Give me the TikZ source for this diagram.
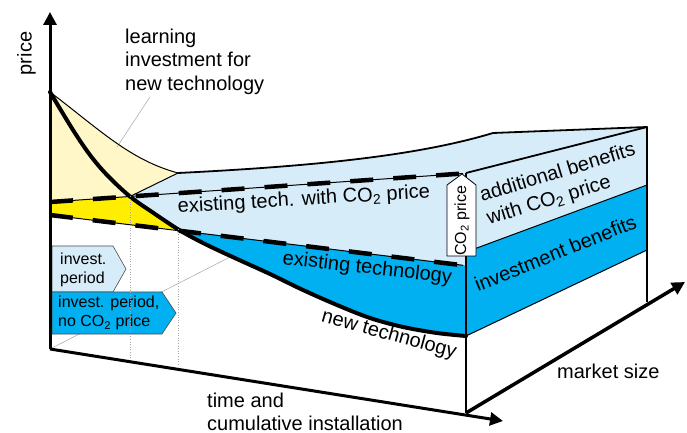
\documentclass[tikz,border=0pt]{standalone}
\usepackage{fontspec}
\setmainfont{Liberation Sans}
\usetikzlibrary{arrows.meta}
\definecolor{lblue}{RGB}{215,236,249}
\definecolor{dblue}{RGB}{0,176,240}
\definecolor{pyellow}{RGB}{255,247,200}
\definecolor{yyellow}{RGB}{255,238,0}
\definecolor{guide}{RGB}{165,165,165}
\begin{document}
\begin{tikzpicture}[x=1bp,y=-1bp,
  txt/.style={inner sep=0pt, font=\fontsize{20bp}{24bp}\selectfont},
  stxt/.style={inner sep=0pt, font=\fontsize{16bp}{19bp}\selectfont},
  edgeline/.style={line width=1.8bp, line join=round},
  thinedge/.style={line width=1bp},
  dashline/.style={line width=4.5bp, dash pattern=on 23bp off 20bp},
  axisline/.style={line width=3bp, -{Triangle[length=13bp,width=13bp]}},
  guideline/.style={guide, line width=0.5bp},
  boxline/.style={draw=black!70, line width=0.6bp},
]
\useasboundingbox (0,0) rectangle (687,433);
% key points
\coordinate (O) at (50,349);
\coordinate (Ytop) at (50,12);
\coordinate (Tend) at (503,421);
\coordinate (F) at (466,413);
\coordinate (Mend) at (685,282);
\coordinate (peak) at (50,92);
\coordinate (Cl) at (50,202);
\coordinate (Cr) at (463,173.5);
\coordinate (El) at (50,215);
\coordinate (Er) at (463,265.3);
\coordinate (A) at (130,196.5);
\coordinate (B) at (180,230.5);
\coordinate (T0) at (178,173);
\coordinate (FT) at (466,173);
\coordinate (BT) at (647,127);
\coordinate (FM) at (466,252);
\coordinate (BM) at (647,185);
\coordinate (FB) at (466,336);
\coordinate (BB) at (647,250);
\coordinate (BF) at (647,302);
\coordinate (FE) at (466,265.5);

% fills
\fill[lblue] (A) -- (T0) .. controls (320,166) and (420,155) .. (493,133) -- (BT) -- (BM) -- (FM) -- (FE) -- (B) -- cycle;
\fill[pyellow] (peak) .. controls (100,130) and (130,160) .. (T0) -- (A) -- (Cl) -- cycle;
\fill[yyellow] (Cl) -- plot[smooth] coordinates {(130,196.5) (155,214) (180,230.5)} -- (El) -- cycle;
\fill[dblue] plot[smooth, tension=0.55] coordinates {(180,230.5) (205,244) (237,259) (270,274) (303,290) (337,305) (370,318) (403,327) (437,333) (466,336)} -- (FE) -- cycle;
\fill[dblue] (FM) -- (BM) -- (BB) -- (FB) -- cycle;

% guide lines behind
\draw[guideline] (150,97) -- (117,147);
\draw[guideline] (O) -- (232,256);

% edges
\draw[edgeline] (T0) .. controls (320,166) and (420,155) .. (493,133) -- (BT);
\draw[edgeline] (FT) -- (BT) -- (BF);
\draw[edgeline] (FT) -- (F);
\draw[thinedge] (FM) -- (BM);
\draw[thinedge] (FB) -- (BB);
\draw[thinedge] (A) -- (T0);
\draw[thinedge] (peak) .. controls (100,130) and (130,160) .. (T0);

% dashed price lines
\draw[line width=1bp] (Cl) -- (Cr);
\draw[dashline] (Cl) -- (Cr);
\draw[line width=1bp] (El) -- (Er);
\draw[dashline] (El) -- (Er);

% new technology curve
\draw[line width=4bp, line cap=round, line join=round] plot[smooth, tension=0.55] coordinates {(50,92) (73,130) (90,155) (107,175) (130,196.5) (155,214) (180,230.5) (205,244) (237,259) (270,274) (303,290) (337,305) (370,318) (403,327) (437,333) (466,336)};

% invest period boxes
\draw[boxline, fill=lblue] (52,246) -- (113,246) -- (126,269) -- (113,292) -- (52,292) -- cycle;
\draw[boxline, fill=dblue] (52,292) -- (162,292) -- (176,313) -- (162,334) -- (52,334) -- cycle;
\node[stxt, anchor=base west] (ip1) at (60,265) {invest.};
\node[stxt, anchor=base west] (ip2) at (60,284) {period};
\node[stxt, anchor=base west] (nc1) at (58,308) {invest. period,};
\node[stxt, anchor=base west] (nc2) at (58,327) {no CO\textsubscript{2} price};

% dotted verticals
\draw[guide, line width=0.6bp, dotted] (A) -- (130,358);
\draw[guide, line width=0.6bp, dotted] (178,229) -- (178,366);

% CO2 price arrow box
\draw[fill=white, line width=0.8bp, line join=round] (447,185) -- (462,174) -- (476,185) -- (476,256) -- (447,256) -- cycle;
\node[stxt, rotate=90] (co2) at (462,221) {CO\textsubscript{2} price};

% axes
\draw[axisline] (O) -- (Ytop);
\draw[axisline] (O) -- (Tend);
\draw[axisline, line width=3.5bp] (F) -- (Mend);

% labels
\node[txt, rotate=90] (price) at (26.5,53.5) {price};
\node[txt, anchor=base west] (l1) at (125,44) {learning};
\node[txt, anchor=base west] (l2) at (125,67) {investment for};
\node[txt, anchor=base west] (l3) at (125,90.5) {new technology};
\node[txt, anchor=base west, rotate=3.5] (etc) at (178,213) {existing tech. with CO\textsubscript{2} price};
\node[txt, anchor=base west, rotate=-6.5] (et) at (282,264) {existing technology};
\node[txt, rotate=-15.5] (nt) at (389,335) {new technology};
\node[txt, anchor=base west, rotate=17] (ab1) at (482,202) {additional benefits};
\node[txt, anchor=base west, rotate=17] (ab2) at (489,225) {with CO\textsubscript{2} price};
\node[txt, anchor=base west, rotate=22] (ib) at (478,292) {investment benefits};
\node[txt, anchor=base west] (ms) at (557,378) {market size};
\node[txt, anchor=base west] (t1) at (207,407) {time and};
\node[txt, anchor=base west] (t2) at (207,430) {cumulative installation};
\end{tikzpicture}
\end{document}
